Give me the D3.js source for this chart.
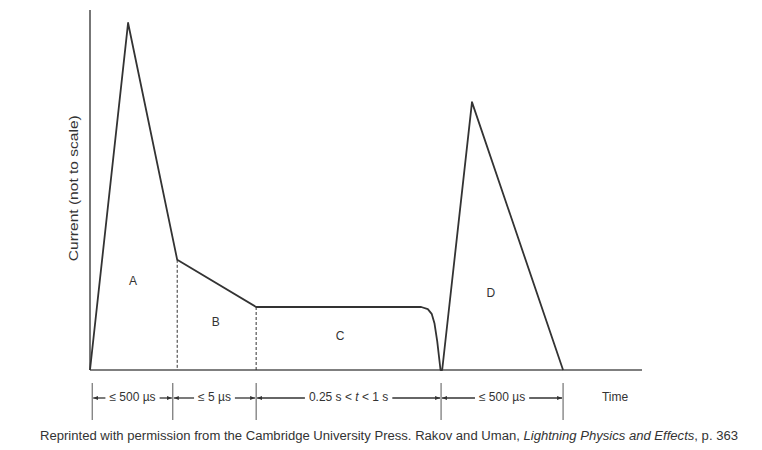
<!DOCTYPE html>
<html>
<head>
<meta charset="utf-8">
<script src="https://cdn.jsdelivr.net/npm/d3@7"></script>
<style>
  body { margin: 0; background: #fff; }
  text { font-family: "Liberation Sans", Arial, sans-serif; fill: #333; }
</style>
</head>
<body>
<div id="chart"></div>
<script>
// waveform, in diagram units (time 0-100, current 0-100, not to scale)
var waveT = [0, 6.9, 15.8, 30.1, 60.0, 61.2, 61.9, 62.4, 62.9, 63.5, 63.8, 69.2, 85.7];
var waveI = [0, 96.4, 30.6, 17.5, 17.5, 16.9, 15.6, 13.0, 8.0, 0, 0, 74.4, 0];

// dashed separators between A/B and B/C
var sepT = [15.8, 30.1];
var sepI = [30.6, 17.5];

// region letters
var regionNames = ["A", "B", "C", "D"];
var regionT = [7.8, 22.8, 45.3, 72.6];
var regionI = [24.4, 13.1, 9.2, 21.1];

// duration brackets under the axis
var bracketT = [0.4, 15.0, 30.1, 63.6, 85.7];
var bracketLabels = [["≤ 500 µs"], ["≤ 5 µs"], ["0.25 s < ", "t", " < 1 s"], ["≤ 500 µs"]];

var width = 762, height = 450;
var margin = {top: 10, left: 90, right: 120, bottom: 80};

var svg = d3.select("#chart").append("svg")
  .attr("width", width)
  .attr("height", height);

var x = d3.scaleLinear().domain([0, 100]).range([margin.left, width - margin.right]);
var y = d3.scaleLinear().domain([0, 100]).range([height - margin.bottom, margin.top]);

var ink = "#333";

// arrow head
svg.append("defs").append("marker")
  .attr("id", "arr")
  .attr("viewBox", "0 0 10 10")
  .attr("refX", 10).attr("refY", 5)
  .attr("markerWidth", 5).attr("markerHeight", 5)
  .attr("markerUnits", "userSpaceOnUse")
  .attr("orient", "auto")
  .append("path").attr("d", "M0,1 L10,5 L0,9 Z").attr("fill", ink);

// axes (no ticks)
svg.append("line")
  .attr("x1", x(0)).attr("x2", x(0))
  .attr("y1", y(0)).attr("y2", y(100))
  .attr("stroke", "#555").attr("stroke-width", 1.6);
svg.append("line")
  .attr("x1", x(0)).attr("x2", x(100))
  .attr("y1", y(0)).attr("y2", y(0))
  .attr("stroke", "#555").attr("stroke-width", 1.6);

// waveform
var line = d3.line().x(d => x(d[0])).y(d => y(d[1]));
svg.append("path")
  .datum(d3.zip(waveT, waveI))
  .attr("d", line)
  .attr("fill", "none")
  .attr("stroke", ink)
  .attr("stroke-width", 1.8)
  .attr("stroke-linejoin", "round");

// dashed separators
svg.selectAll(".sep")
  .data(d3.zip(sepT, sepI))
  .enter().append("line")
  .attr("x1", d => x(d[0])).attr("x2", d => x(d[0]))
  .attr("y1", d => y(d[1])).attr("y2", y(0))
  .attr("stroke", ink).attr("stroke-width", 1)
  .attr("stroke-dasharray", "3,2");

// region letters
svg.selectAll(".region")
  .data(regionNames)
  .enter().append("text")
  .attr("x", (d, i) => x(regionT[i]))
  .attr("y", (d, i) => y(regionI[i]))
  .attr("text-anchor", "middle")
  .attr("dominant-baseline", "middle")
  .attr("font-size", 12)
  .text(d => d);

// y label
svg.append("text")
  .attr("transform", "translate(75," + y(50.5) + ") rotate(-90)")
  .attr("text-anchor", "middle")
  .attr("dominant-baseline", "middle")
  .attr("font-size", 13)
  .attr("textLength", 146)
  .attr("lengthAdjust", "spacingAndGlyphs")
  .text("Current (not to scale)");

// brackets below the axis
var by = 398;
svg.selectAll(".tick-v")
  .data(bracketT)
  .enter().append("line")
  .attr("x1", d => x(d)).attr("x2", d => x(d))
  .attr("y1", 383).attr("y2", 420)
  .attr("stroke", "#555").attr("stroke-width", 1);

bracketLabels.forEach(function(parts, i) {
  var x0 = x(bracketT[i]), x1 = x(bracketT[i + 1]);
  var cx = (x0 + x1) / 2;
  var t = svg.append("text")
    .attr("x", cx).attr("y", by)
    .attr("text-anchor", "middle")
    .attr("dominant-baseline", "middle")
    .attr("font-size", 12);
  parts.forEach(function(p) {
    t.append("tspan").attr("font-style", p === "t" ? "italic" : null).text(p);
  });
  var w = t.node().getComputedTextLength();
  svg.append("line")
    .attr("x1", cx - w / 2 - 4).attr("x2", x0 + 1)
    .attr("y1", by).attr("y2", by)
    .attr("stroke", ink).attr("stroke-width", 1.3)
    .attr("marker-end", "url(#arr)");
  svg.append("line")
    .attr("x1", cx + w / 2 + 4).attr("x2", x1 - 1)
    .attr("y1", by).attr("y2", by)
    .attr("stroke", ink).attr("stroke-width", 1.3)
    .attr("marker-end", "url(#arr)");
});

svg.append("text")
  .attr("x", 615).attr("y", by)
  .attr("text-anchor", "middle")
  .attr("dominant-baseline", "middle")
  .attr("font-size", 12)
  .text("Time");

// caption
var cap = svg.append("text")
  .attr("x", 389).attr("y", 437)
  .attr("text-anchor", "middle")
  .attr("dominant-baseline", "middle")
  .attr("font-size", 12.5)
  .attr("fill", "#222");
cap.append("tspan").text("Reprinted with permission from the Cambridge University Press. Rakov and Uman, ");
cap.append("tspan").attr("font-style", "italic").text("Lightning Physics and Effects");
cap.append("tspan").text(", p. 363");
cap.attr("textLength", 698).attr("lengthAdjust", "spacingAndGlyphs");
</script>
</body>
</html>
